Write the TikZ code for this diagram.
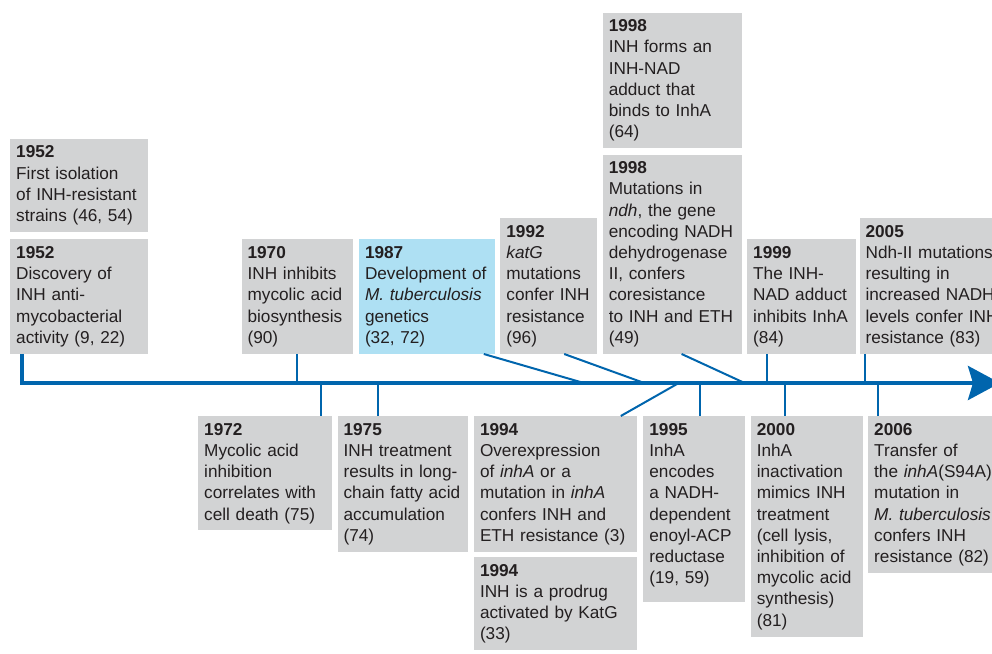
\documentclass[tikz,border=0pt]{standalone}
\usepackage{fontspec}
\setmainfont{Liberation Sans}
\usetikzlibrary{arrows.meta, positioning}
\definecolor{boxgray}{RGB}{210,211,212}
\definecolor{boxblue}{RGB}{174,224,243}
\definecolor{lineblue}{RGB}{0,101,173}
\definecolor{textgray}{RGB}{35,31,32}

\begin{document}
\begin{tikzpicture}[
    x=1pt, y=1pt,
    node distance=5pt and 5pt, % small gaps between neighbouring boxes
    event/.style={fill=boxgray, text width=#1, inner xsep=6pt, inner ysep=7pt, align=left, text=textgray, font=\fontsize{17.2}{21.2}\selectfont},
    hilite/.style={event=#1, fill=boxblue}, % the one blue box
    timeline/.style={draw=lineblue, line width=4pt, -{Stealth[length=32pt, width=34pt, inset=5pt]}},
    link/.style={draw=lineblue, line width=2pt}
]
\useasboundingbox (0,0) rectangle (992,653);
\coordinate (axis) at (0,270);
\coordinate (tip) at (1000,270);

% Boxes above the timeline
\node[event=126pt, anchor=south west] (discovery) at (10,299) {\textbf{1952}\\ Discovery of\\ INH anti-\\ mycobacterial\\ activity (9, 22)};
\node[event=126pt, above=7pt of discovery.north west, anchor=south west] (isolation) {\textbf{1952}\\ First isolation\\ of INH-resistant\\ strains (46, 54)};
\node[event=99pt, right=93pt of discovery.south east, anchor=south west] (mycolic) {\textbf{1970}\\ INH inhibits\\ mycolic acid\\ biosynthesis\\ (90)};
\node[hilite=124pt, right=6pt of mycolic.south east, anchor=south west] (genetics) {\textbf{1987}\\ Development of\\ \textit{M. tuberculosis}\\ genetics\\ (32, 72)};
\node[event=85pt, right=of genetics.south east, anchor=south west] (katg) {\textbf{1992}\\ \textit{katG}\\ mutations\\ confer INH\\ resistance\\ (96)};
\node[event=127pt, right=of katg.south east, anchor=south west] (ndh) {\textbf{1998}\\ Mutations in\\ \textit{ndh}, the gene\\ encoding NADH\\ dehydrogenase\\ II, confers\\ coresistance\\ to INH and ETH\\ (49)};
\node[event=127pt, above=6pt of ndh.north west, anchor=south west] (adduct) {\textbf{1998}\\ INH forms an\\ INH-NAD\\ adduct that\\ binds to InhA\\ (64)};
\node[event=97pt, right=of ndh.south east, anchor=south west] (inhibit) {\textbf{1999}\\ The INH-\\ NAD adduct\\ inhibits InhA\\ (84)};
\node[event=150pt, right=3pt of inhibit.south east, anchor=south west] (ndhii) {\textbf{2005}\\ Ndh-II mutations\\ resulting in\\ increased NADH\\ levels confer INH\\ resistance (83)};

% Boxes below the timeline
\node[event=122pt, anchor=north west, text depth=88pt] (death) at (198,237) {\textbf{1972}\\ Mycolic acid\\ inhibition\\ correlates with\\ cell death (75)};
\node[event=118pt, right=of death.north east, anchor=north west] (fatty) {\textbf{1975}\\ INH treatment\\ results in long-\\ chain fatty acid\\ accumulation\\ (74)};
\node[event=151pt, right=6pt of fatty.north east, anchor=north west] (overexp) {\textbf{1994}\\ Overexpression\\ of \textit{inhA} or a\\ mutation in \textit{inhA}\\ confers INH and\\ ETH resistance (3)};
\node[event=151pt, below=of overexp.south west, anchor=north west] (prodrug) {\textbf{1994}\\ INH is a prodrug\\ activated by KatG\\ (33)};
\node[event=90pt, right=6pt of overexp.north east, anchor=north west, text depth=160pt] (enoyl) {\textbf{1995}\\ InhA\\ encodes\\ a NADH-\\ dependent\\ enoyl-ACP\\ reductase\\ (19, 59)};
\node[event=100pt, right=of enoyl.north east, anchor=north west] (inactiv) {\textbf{2000}\\ InhA\\ inactivation\\ mimics INH\\ treatment\\ (cell lysis,\\ inhibition of\\ mycolic acid\\ synthesis)\\ (81)};
\node[event=140pt, right=of inactiv.north east, anchor=north west] (transfer) {\textbf{2006}\\ Transfer of\\ the \textit{inhA}(S94A)\\ mutation in\\ \textit{M. tuberculosis}\\ confers INH\\ resistance (82)};

% Links down to the timeline
\path[link] (mycolic.south) -- (mycolic.south |- axis);
\path[link] ([xshift=125pt]genetics.south west) -- ([xshift=225pt]genetics.south west |- axis);
\path[link] ([xshift=64pt]katg.south west) -- ([xshift=144pt]katg.south west |- axis);
\path[link] ([xshift=79pt]ndh.south west) -- ([xshift=142pt]ndh.south west |- axis);
\path[link] ([xshift=20pt]inhibit.south west) -- ([xshift=20pt]inhibit.south west |- axis);
\path[link] ([xshift=6pt]ndhii.south west) -- ([xshift=6pt]ndhii.south west |- axis);

% Links up to the timeline
\path[link] ([xshift=123pt]death.north west) -- ([xshift=123pt]death.north west |- axis);
\path[link] ([xshift=41pt]fatty.north west) -- ([xshift=41pt]fatty.north west |- axis);
\path[link] ([xshift=147pt]overexp.north west) -- ([xshift=205pt]overexp.north west |- axis);
\path[link] ([xshift=57pt]enoyl.north west) -- ([xshift=57pt]enoyl.north west |- axis);
\path[link] ([xshift=34pt]inactiv.north west) -- ([xshift=34pt]inactiv.north west |- axis);
\path[link] ([xshift=10pt]transfer.north west) -- ([xshift=10pt]transfer.north west |- axis);

% Timeline
\path[timeline] ([xshift=12pt]discovery.south west) |- (tip);

\end{tikzpicture}
\end{document}
